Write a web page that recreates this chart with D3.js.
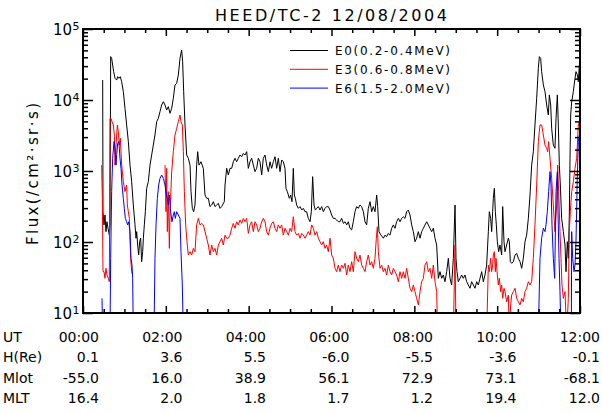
<!DOCTYPE html>
<html><head><meta charset="utf-8">
<script src="https://cdn.jsdelivr.net/npm/d3@7/dist/d3.min.js"></script>
<style>
body{margin:0;background:#fff}
text{font-family:"DejaVu Sans",sans-serif;fill:#000}
</style></head><body>
<svg id="c" width="602" height="413"></svg>
<script>
// ---- data: [UT hours, flux] ----
const e0 = [[0.475,19100],[0.483,267],[0.507,174],[0.531,240],[0.555,140],[0.579,193],[0.604,156],[0.636,125],[0.652,174],[0.668,40800],[0.692,38600],[0.716,31100],[0.740,25100],[0.773,20200],[0.813,19100],[0.837,21300],[0.869,20200],[0.901,21300],[0.934,18100],[0.974,13100],[1.014,7630],[1.054,4450],[1.095,2590],[1.135,1210],[1.175,707],[1.215,332],[1.256,174],[1.280,113],[1.296,140],[1.320,90.7],[1.344,65.6],[1.368,101],[1.392,113],[1.416,52.8],[1.441,73.1],[1.457,113],[1.481,174],[1.505,267],[1.537,570],[1.577,707],[1.618,1210],[1.658,1680],[1.698,2320],[1.738,3210],[1.779,4950],[1.819,5520],[1.859,6850],[1.899,8500],[1.940,9470],[1.980,8500],[2.020,7230],[2.060,8060],[2.101,6490],[2.141,7630],[2.181,10600],[2.221,16300],[2.262,17200],[2.302,22500],[2.342,38600],[2.382,50600],[2.406,34700],[2.431,13100],[2.463,4450],[2.503,1680],[2.543,1510],[2.584,1210],[2.608,512],[2.640,298],[2.672,267],[2.704,332],[2.744,1210],[2.769,1870],[2.801,1210],[2.849,1350],[2.905,1090],[2.946,459],[2.986,412],[3.026,412],[3.066,315],[3.107,332],[3.147,370],[3.187,315],[3.227,332],[3.268,350],[3.308,298],[3.348,315],[3.412,370],[3.429,635],[3.469,1090],[3.509,878],[3.549,1090],[3.590,1090],[3.630,1350],[3.670,1510],[3.710,1350],[3.750,1510],[3.791,1680],[3.831,1590],[3.871,1770],[3.911,1680],[3.952,1870],[3.992,1090],[4.032,1350],[4.072,1510],[4.113,1210],[4.153,979],[4.193,1090],[4.233,1510],[4.274,1350],[4.314,878],[4.354,1510],[4.394,1680],[4.435,1210],[4.475,979],[4.515,1350],[4.555,1090],[4.596,1350],[4.636,1590],[4.676,1090],[4.716,1510],[4.757,979],[4.797,1430],[4.837,1350],[4.877,1090],[4.901,570],[4.934,512],[4.982,412],[5.014,459],[5.046,370],[5.078,1090],[5.103,459],[5.127,412],[5.159,332],[5.199,298],[5.240,315],[5.280,282],[5.320,298],[5.360,267],[5.400,267],[5.441,215],[5.481,193],[5.513,267],[5.545,832],[5.578,332],[5.610,282],[5.642,298],[5.682,315],[5.722,282],[5.763,315],[5.803,267],[5.843,298],[5.883,315],[5.924,315],[5.964,282],[6.004,240],[6.044,215],[6.085,215],[6.125,204],[6.165,193],[6.205,193],[6.245,215],[6.286,183],[6.326,193],[6.366,174],[6.406,193],[6.447,156],[6.487,148],[6.527,193],[6.567,267],[6.608,315],[6.648,298],[6.688,332],[6.728,315],[6.769,267],[6.809,193],[6.849,174],[6.889,298],[6.930,370],[6.970,267],[7.010,315],[7.050,267],[7.091,459],[7.115,315],[7.147,140],[7.195,125],[7.252,113],[7.292,125],[7.332,119],[7.372,132],[7.412,125],[7.453,156],[7.493,174],[7.533,156],[7.573,193],[7.614,215],[7.654,193],[7.694,215],[7.734,227],[7.775,215],[7.815,267],[7.855,282],[7.895,240],[7.936,174],[7.976,140],[8.016,101],[8.056,113],[8.097,140],[8.137,113],[8.177,140],[8.217,156],[8.258,174],[8.298,193],[8.338,174],[8.378,156],[8.419,140],[8.459,156],[8.499,113],[8.539,90.7],[8.580,30.8],[8.620,38.2],[8.660,30.8],[8.700,34.3],[8.740,27.6],[8.781,38.2],[8.821,58.9],[8.861,30.8],[8.901,24.8],[8.942,58.9],[8.982,332],[9.006,58.9],[9.030,38.2],[9.062,27.6],[9.103,30.8],[9.143,34.3],[9.183,30.8],[9.223,34.3],[9.264,27.6],[9.304,24.8],[9.344,22.3],[9.384,27.6],[9.425,24.8],[9.465,22.3],[9.505,27.6],[9.545,24.8],[9.586,30.8],[9.626,38.2],[9.666,27.6],[9.706,34.3],[9.746,47.4],[9.787,140],[9.811,267],[9.843,215],[9.867,140],[9.891,267],[9.907,412],[9.932,570],[9.956,267],[9.980,174],[10.004,101],[10.036,73.1],[10.068,90.7],[10.109,65.6],[10.133,315],[10.165,101],[10.189,73.1],[10.229,90.7],[10.270,113],[10.294,101],[10.318,52.8],[10.350,50.1],[10.390,52.8],[10.431,65.6],[10.471,69.2],[10.511,58.9],[10.551,52.8],[10.592,42.6],[10.632,58.9],[10.672,101],[10.712,125],[10.753,215],[10.793,459],[10.833,1210],[10.873,1870],[10.913,4450],[10.954,10600],[10.994,27900],[11.018,40800],[11.050,38600],[11.074,25100],[11.115,16300],[11.155,13100],[11.195,8500],[11.235,6150],[11.260,11800],[11.292,8500],[11.316,3990],[11.356,2320],[11.396,2090],[11.421,5520],[11.453,11800],[11.477,4450],[11.501,1210],[11.525,635],[11.557,215],[11.598,140],[11.638,90.7],[11.662,38.2],[11.694,101],[11.718,58.9],[11.742,240],[11.759,1510],[11.775,6150],[11.799,9470],[11.839,13100],[11.879,20200],[11.903,25100],[11.936,22500],[11.960,18100],[11.984,31100]];

const e3 = [[0.451,1210],[0.467,412],[0.483,38.2],[0.507,38.2],[0.531,30.8],[0.555,42.6],[0.579,34.3],[0.612,30.8],[0.636,27.6],[0.652,5520],[0.676,5520],[0.700,4950],[0.732,4450],[0.757,3210],[0.773,1210],[0.797,2320],[0.829,4450],[0.853,3580],[0.877,2320],[0.901,2890],[0.934,1210],[0.974,707],[1.014,512],[1.054,635],[1.070,332],[1.095,267],[1.119,215],[1.151,58.9],[1.175,38.2],[1.199,34.3],[1.6,null],[1.980,1210],[2.004,267],[2.020,1090],[2.036,140],[2.060,512],[2.085,81.4],[2.101,267],[2.141,979],[2.181,1870],[2.221,3210],[2.262,3990],[2.302,4950],[2.342,6150],[2.366,4950],[2.398,4450],[2.423,1870],[2.447,512],[2.479,174],[2.511,101],[2.543,65.6],[2.584,73.1],[2.624,65.6],[2.664,81.4],[2.704,73.1],[2.744,174],[2.785,215],[2.825,174],[2.865,183],[2.905,174],[2.946,140],[2.986,113],[3.026,90.7],[3.066,65.6],[3.107,90.7],[3.147,73.1],[3.187,81.4],[3.227,65.6],[3.268,90.7],[3.308,101],[3.348,113],[3.388,90.7],[3.429,125],[3.469,113],[3.509,113],[3.549,125],[3.590,156],[3.630,183],[3.670,156],[3.710,193],[3.750,174],[3.791,204],[3.831,183],[3.871,215],[3.911,193],[3.952,215],[3.992,132],[4.032,174],[4.072,193],[4.113,140],[4.153,193],[4.193,174],[4.233,140],[4.274,156],[4.314,193],[4.354,215],[4.394,193],[4.435,140],[4.475,125],[4.515,156],[4.555,183],[4.596,193],[4.636,156],[4.676,140],[4.716,174],[4.757,156],[4.797,174],[4.837,125],[4.877,156],[4.918,140],[4.958,125],[4.998,156],[5.038,140],[5.078,227],[5.119,140],[5.159,125],[5.199,132],[5.240,113],[5.280,132],[5.320,125],[5.360,113],[5.400,125],[5.441,140],[5.481,125],[5.521,174],[5.561,156],[5.602,125],[5.642,140],[5.682,113],[5.722,101],[5.763,90.7],[5.803,101],[5.843,81.4],[5.883,90.7],[5.924,73.1],[5.964,113],[6.004,65.6],[6.044,58.9],[6.085,42.6],[6.125,38.2],[6.165,47.4],[6.205,38.2],[6.245,47.4],[6.286,42.6],[6.326,50.1],[6.366,34.3],[6.406,47.4],[6.447,38.2],[6.487,52.8],[6.527,38.2],[6.567,73.1],[6.608,58.9],[6.648,52.8],[6.688,65.6],[6.728,47.4],[6.769,42.6],[6.809,38.2],[6.849,52.8],[6.889,65.6],[6.930,47.4],[6.970,52.8],[7.010,42.6],[7.050,58.9],[7.082,113],[7.107,164],[7.131,73.1],[7.171,42.6],[7.211,47.4],[7.252,38.2],[7.292,42.6],[7.332,34.3],[7.372,47.4],[7.412,38.2],[7.453,34.3],[7.493,42.6],[7.533,38.2],[7.573,34.3],[7.614,27.6],[7.654,38.2],[7.694,30.8],[7.734,38.2],[7.775,30.8],[7.815,42.6],[7.855,30.8],[7.895,22.3],[7.936,20.0],[7.976,24.8],[8.016,20.0],[8.056,16.1],[8.097,13.0],[8.137,20.0],[8.177,27.6],[8.217,30.8],[8.258,47.4],[8.298,52.8],[8.338,38.2],[8.378,42.6],[8.419,30.8],[8.459,47.4],[8.499,27.6],[8.539,20.0],[8.564,5],[8.942,5],[8.982,90.7],[9.006,5],[9.746,5],[9.787,47.4],[9.811,38.2],[9.843,58.9],[9.867,38.2],[9.891,47.4],[9.907,65.6],[9.932,73.1],[9.956,38.2],[9.972,58.9],[10.004,34.3],[10.028,24.8],[10.052,30.8],[10.085,20.0],[10.109,24.8],[10.133,16.1],[10.165,22.3],[10.189,20.0],[10.229,14.4],[10.270,17.9],[10.294,5],[10.326,13.0],[10.350,17.9],[10.390,20.0],[10.431,22.3],[10.471,16.1],[10.511,14.4],[10.551,13.0],[10.592,16.1],[10.632,14.4],[10.672,20.0],[10.712,22.3],[10.753,27.6],[10.793,24.8],[10.833,27.6],[10.873,58.9],[10.913,174],[10.954,635],[10.994,2590],[11.034,4450],[11.074,4450],[11.115,3210],[11.155,2320],[11.195,2090],[11.219,1870],[11.243,2590],[11.276,1510],[11.316,788],[11.356,332],[11.396,140],[11.437,332],[11.461,1210],[11.485,512],[11.517,140],[11.541,58.9],[11.565,24.8],[11.598,16.1],[11.638,20.0],[11.678,5],[11.718,16.1],[11.742,140],[11.767,267],[11.799,512],[11.839,707],[11.879,1090],[11.920,1510],[11.960,4450],[11.984,4950]];

const e6 = [[0.459,16.1],[0.475,5],[0.652,5],[0.668,58.9],[0.692,512],[0.716,1510],[0.749,2600],[0.773,2100],[0.797,1210],[0.813,1700],[0.837,2450],[0.861,2600],[0.877,2100],[0.893,1510],[0.918,1090],[0.942,635],[0.974,412],[0.998,298],[1.022,215],[1.054,193],[1.078,174],[1.103,193],[1.135,140],[1.159,58.9],[1.183,47.4],[1.199,30.8],[1.215,5],[1.714,5],[1.738,58.9],[1.763,174],[1.795,412],[1.827,635],[1.859,788],[1.899,878],[1.940,788],[1.980,635],[2.004,512],[2.036,412],[2.060,332],[2.085,459],[2.117,267],[2.149,193],[2.181,240],[2.205,267],[2.229,215],[2.262,267],[2.302,240],[2.342,215],[2.366,73.1],[2.398,24.8],[2.423,5],[10.994,5],[11.034,58.9],[11.074,113],[11.115,156],[11.155,140],[11.179,174],[11.211,267],[11.243,512],[11.276,979],[11.300,635],[11.324,174],[11.356,58.9],[11.388,30.8],[11.421,512],[11.453,979],[11.469,267],[11.493,58.9],[11.517,20.0],[11.541,5],[11.791,5],[11.799,140],[11.823,58.9],[11.855,38.2],[11.879,47.4],[11.903,101],[11.920,298],[11.936,878],[11.960,2590],[11.984,3210]];

const seriesNames = ["E0(0.2-0.4MeV)", "E3(0.6-0.8MeV)", "E6(1.5-2.0MeV)"];
const seriesColors = ["#000000", "#ff0000", "#0000ff"];

const titleText = "HEED/TC-2 12/08/2004";
const yLabelText = "Flux(/cm²·sr·s)";
const yExponents = [1, 2, 3, 4, 5];
const xMajorHours = [0, 2, 4, 6, 8, 10, 12];

const rowNames = ["UT", "H(Re)", "Mlot", "MLT"];
const utValues = ["00:00", "02:00", "04:00", "06:00", "08:00", "10:00", "12:00"];
const hValues = ["0.1", "3.6", "5.5", "-6.0", "-5.5", "-3.6", "-0.1"];
const mlatValues = ["-55.0", "16.0", "38.9", "56.1", "72.9", "73.1", "-68.1"];
const mltValues = ["16.4", "2.0", "1.8", "1.7", "1.2", "19.4", "12.0"];

// ---- drawing ----
const W = 602, H = 413;
const P = {l: 83, r: 580, t: 29, b: 313};
const svg = d3.select("#c");
svg.append("rect").attr("width", W).attr("height", H).attr("fill", "#fff");

const x = d3.scaleLinear().domain([0, 12]).range([P.l, P.r]);
const y = d3.scaleLog().domain([10, 1e5]).range([P.b, P.t]);

svg.append("defs").append("clipPath").attr("id", "clip")
  .append("rect").attr("x", P.l).attr("y", P.t).attr("width", P.r - P.l).attr("height", P.b - P.t);

const line = d3.line().defined(d => d[1] != null).x(d => x(d[0])).y(d => y(d[1]));
const gData = svg.append("g").attr("clip-path", "url(#clip)");
[e0, e3, e6].forEach((s, i) => {
  gData.append("path").datum(s).attr("d", line)
    .attr("fill", "none").attr("stroke", seriesColors[i]).attr("stroke-width", 1)
    .attr("stroke-linejoin", "miter");
});

// axes ticks
const yMajor = yExponents.map(e => Math.pow(10, e));
const yMinor = [];
for (let e = 1; e < 5; e++) for (let m = 2; m <= 9; m++) yMinor.push(m * Math.pow(10, e));
const xMinor = d3.range(0.5, 12, 0.5).filter(h => h % 2 !== 0);

function styleAxis(g) {
  g.select(".domain").remove();
  g.selectAll(".tick line").attr("stroke", "#000").attr("stroke-width", 1.5);
}
svg.append("g").attr("transform", `translate(${P.l},0)`)
  .call(d3.axisLeft(y).tickValues(yMajor).tickSizeInner(-10).tickSizeOuter(0).tickFormat("")).call(styleAxis);
svg.append("g").attr("transform", `translate(${P.l},0)`)
  .call(d3.axisLeft(y).tickValues(yMinor).tickSizeInner(-5).tickSizeOuter(0).tickFormat("")).call(styleAxis);
svg.append("g").attr("transform", `translate(${P.r},0)`)
  .call(d3.axisRight(y).tickValues(yMajor).tickSizeInner(-10).tickSizeOuter(0).tickFormat("")).call(styleAxis);
svg.append("g").attr("transform", `translate(${P.r},0)`)
  .call(d3.axisRight(y).tickValues(yMinor).tickSizeInner(-5).tickSizeOuter(0).tickFormat("")).call(styleAxis);
svg.append("g").attr("transform", `translate(0,${P.b})`)
  .call(d3.axisBottom(x).tickValues(xMajorHours).tickSizeInner(-7).tickSizeOuter(0).tickFormat("")).call(styleAxis);
svg.append("g").attr("transform", `translate(0,${P.b})`)
  .call(d3.axisBottom(x).tickValues(xMinor).tickSizeInner(-4).tickSizeOuter(0).tickFormat("")).call(styleAxis);
svg.append("g").attr("transform", `translate(0,${P.t})`)
  .call(d3.axisTop(x).tickValues(xMajorHours).tickSizeInner(-7).tickSizeOuter(0).tickFormat("")).call(styleAxis);
svg.append("g").attr("transform", `translate(0,${P.t})`)
  .call(d3.axisTop(x).tickValues(xMinor).tickSizeInner(-4).tickSizeOuter(0).tickFormat("")).call(styleAxis);

svg.append("rect").attr("x", P.l).attr("y", P.t).attr("width", P.r - P.l).attr("height", P.b - P.t)
  .attr("fill", "none").attr("stroke", "#000").attr("stroke-width", 2);

// y tick labels
yExponents.forEach(e => {
  const yy = y(Math.pow(10, e));
  svg.append("text").attr("x", 72).attr("y", yy + 6).attr("text-anchor", "end")
    .attr("font-size", 15).text("10");
  svg.append("text").attr("x", 72.5).attr("y", yy + 1).attr("font-size", 11).text(e);
});

// y label
svg.append("text").attr("transform", "translate(38,174) rotate(-90)")
  .attr("text-anchor", "middle").attr("font-size", 15)
  .attr("textLength", 142).attr("lengthAdjust", "spacing").text(yLabelText);

// title
svg.append("text").attr("x", 215).attr("y", 21).attr("font-size", 16)
  .attr("textLength", 232).attr("lengthAdjust", "spacing").text(titleText);

// legend
seriesNames.forEach((n, i) => {
  const ly = 50.5 + i * 18.8;
  svg.append("line").attr("x1", 290).attr("x2", 328).attr("y1", ly).attr("y2", ly)
    .attr("stroke", seriesColors[i]).attr("stroke-width", 1);
  svg.append("text").attr("x", 335).attr("y", ly + 4.5).attr("font-size", 12)
    .attr("textLength", 115).attr("lengthAdjust", "spacing").text(n);
});

// bottom table
const rows = [utValues, hValues, mlatValues, mltValues];
const rowY = [342, 362, 383, 403];
const colX = d3.scaleLinear().domain([0, 6]).range([99, 600]);
rows.forEach((vals, r) => {
  svg.append("text").attr("x", 3).attr("y", rowY[r]).attr("font-size", 14).text(rowNames[r]);
  vals.forEach((v, c) => {
    svg.append("text").attr("x", colX(c)).attr("y", rowY[r]).attr("text-anchor", "end")
      .attr("font-size", 14).text(v);
  });
});
</script>
</body></html>
